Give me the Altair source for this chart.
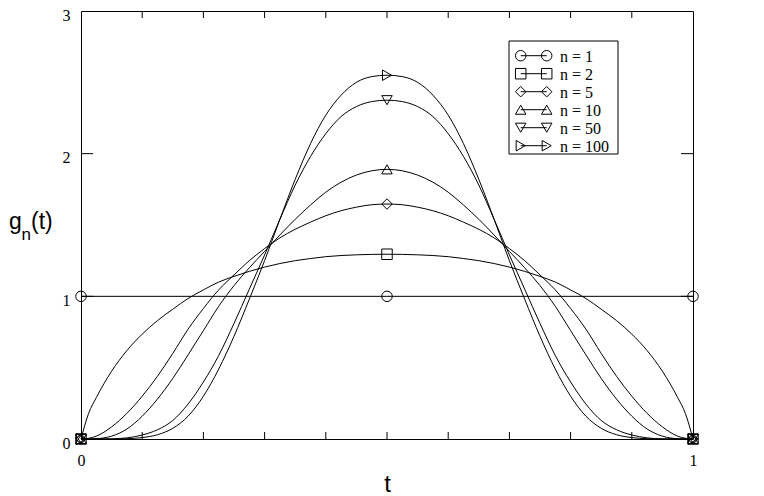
import altair as alt
import pandas as pd

# ---------------- data ----------------
NAMES = ["n = 1", "n = 2", "n = 5", "n = 10", "n = 50", "n = 100"]
SHAPES = ["circle", "square", "diamond", "triangle-up", "triangle-down", "triangle-right"]

# n = 1 is the constant line
T1 = [0, 0.5, 1]
G1 = [1, 1, 1]

# common sample positions for the other curves
T = [0, 0.0125, 0.025, 0.05, 0.075, 0.1, 0.125, 0.15, 0.175, 0.2, 0.225,
     0.25, 0.275, 0.3, 0.325, 0.35, 0.375, 0.4, 0.425, 0.45, 0.475, 0.5,
     0.525, 0.55, 0.575, 0.6, 0.625, 0.65, 0.675, 0.7, 0.725, 0.75, 0.775,
     0.8, 0.825, 0.85, 0.875, 0.9, 0.925, 0.95, 0.975, 0.9875, 1]

G2 = [0, 0.18, 0.29, 0.475, 0.62, 0.735, 0.83, 0.91, 0.985, 1.045, 1.10,
      1.14, 1.175, 1.205, 1.23, 1.25, 1.265, 1.278, 1.286, 1.291, 1.294, 1.295,
      1.294, 1.291, 1.286, 1.278, 1.265, 1.25, 1.23, 1.205, 1.175, 1.14, 1.10,
      1.045, 0.985, 0.91, 0.83, 0.735, 0.62, 0.475, 0.29, 0.18, 0]

G5 = [0, 0.005, 0.02, 0.085, 0.18, 0.30, 0.44, 0.60, 0.77, 0.915, 1.045,
      1.15, 1.25, 1.335, 1.41, 1.47, 1.52, 1.565, 1.60, 1.625, 1.642, 1.647,
      1.642, 1.625, 1.60, 1.565, 1.52, 1.47, 1.41, 1.335, 1.25, 1.15, 1.045,
      0.915, 0.77, 0.60, 0.44, 0.30, 0.18, 0.085, 0.02, 0.005, 0]

G10 = [0, 0, 0.002, 0.02, 0.07, 0.16, 0.28, 0.425, 0.59, 0.76, 0.93,
       1.075, 1.20, 1.315, 1.43, 1.54, 1.64, 1.73, 1.80, 1.85, 1.88, 1.89,
       1.88, 1.85, 1.80, 1.73, 1.64, 1.54, 1.43, 1.315, 1.20, 1.075, 0.93,
       0.76, 0.59, 0.425, 0.28, 0.16, 0.07, 0.02, 0.002, 0, 0]

G50 = [0, 0, 0, 0.001, 0.008, 0.028, 0.065, 0.13, 0.245, 0.40, 0.585,
       0.81, 1.05, 1.29, 1.54, 1.78, 1.98, 2.14, 2.26, 2.33, 2.365, 2.375,
       2.365, 2.33, 2.26, 2.14, 1.98, 1.78, 1.54, 1.29, 1.05, 0.81, 0.585,
       0.40, 0.245, 0.13, 0.065, 0.028, 0.008, 0.001, 0, 0, 0]

G100 = [0, 0, 0, 0, 0.002, 0.01, 0.03, 0.075, 0.16, 0.30, 0.49,
        0.72, 0.98, 1.25, 1.54, 1.82, 2.07, 2.27, 2.41, 2.50, 2.54, 2.55,
        2.54, 2.50, 2.41, 2.27, 2.07, 1.82, 1.54, 1.25, 0.98, 0.72, 0.49,
        0.30, 0.16, 0.075, 0.03, 0.01, 0.002, 0, 0, 0, 0]

# symbols are drawn at t = 0, 0.5, 1
MARK_T = [0, 0.5, 1]
MARK_N1 = [1, 1, 1]
MARK_N2 = [0, 1.295, 0]
MARK_N5 = [0, 1.647, 0]
MARK_N10 = [0, 1.89, 0]
MARK_N50 = [0, 2.375, 0]
MARK_N100 = [0, 2.55, 0]

# axis ticks
X_LABELS = [0, 1]
Y_LABELS = [0, 1, 2, 3]
X_MINOR = [0.1, 0.2, 0.3, 0.4, 0.5, 0.6, 0.7, 0.8, 0.9]
Y_MAJOR = [1, 2]

# ---------------- tables ----------------
curve_rows = []
for name, ts, gs in [(NAMES[0], T1, G1), (NAMES[1], T, G2), (NAMES[2], T, G5),
                     (NAMES[3], T, G10), (NAMES[4], T, G50), (NAMES[5], T, G100)]:
    curve_rows += [{"t": a, "g": b, "series": name} for a, b in zip(ts, gs)]
curves = pd.DataFrame(curve_rows)

mark_rows = []
for name, ys in zip(NAMES, [MARK_N1, MARK_N2, MARK_N5, MARK_N10, MARK_N50, MARK_N100]):
    mark_rows += [{"t": a, "g": b, "series": name} for a, b in zip(MARK_T, ys)]
markers = pd.DataFrame(mark_rows)

W, H = 612, 428
SERIF = "Times New Roman, Liberation Serif, serif"
SANS = "Arial, Liberation Sans, sans-serif"

xscale = alt.Scale(domain=[0, 1], nice=False, zero=False)
yscale = alt.Scale(domain=[0, 3], nice=False, zero=False)
xaxis = alt.Axis(values=X_LABELS, title=None, labelPadding=13, labelFlush=False,
                 format="d")
yaxis = alt.Axis(values=Y_LABELS, title=None, labelPadding=11, labelFlush=False,
                 labelOffset=4, format="d")
shape_scale = alt.Scale(domain=NAMES, range=SHAPES)

base_x = alt.X("t:Q", scale=xscale, axis=xaxis)
base_y = alt.Y("g:Q", scale=yscale, axis=yaxis)

lines = alt.Chart(curves).mark_line(color="black", strokeWidth=1, interpolate="monotone").encode(
    x=base_x, y=base_y, detail="series:N"
)

points = alt.Chart(markers).mark_point(filled=False, color="black", size=110, strokeWidth=1, opacity=1).encode(
    x=base_x, y=base_y, shape=alt.Shape("series:N", scale=shape_scale, legend=None)
)

xt = pd.DataFrame({"v": X_MINOR})
yt = pd.DataFrame({"v": Y_MAJOR})
tick_x_bottom = alt.Chart(xt).mark_rule(color="black", strokeWidth=1).encode(
    x=alt.X("v:Q", scale=xscale, axis=xaxis), y=alt.value(H), y2=alt.value(H - 7))
tick_x_top = alt.Chart(xt).mark_rule(color="black", strokeWidth=1).encode(
    x=alt.X("v:Q", scale=xscale, axis=xaxis), y=alt.value(0), y2=alt.value(7))
tick_y_left = alt.Chart(yt).mark_rule(color="black", strokeWidth=1).encode(
    y=alt.Y("v:Q", scale=yscale, axis=yaxis), x=alt.value(0), x2=alt.value(12))
tick_y_right = alt.Chart(yt).mark_rule(color="black", strokeWidth=1).encode(
    y=alt.Y("v:Q", scale=yscale, axis=yaxis), x=alt.value(W - 12), x2=alt.value(W))

one = pd.DataFrame({"a": [0]})
def label(txt, x, y, size, font=SANS, align="left"):
    return alt.Chart(one).mark_text(text=txt, font=font, fontSize=size, color="black",
                                    align=align, baseline="alphabetic").encode(
        x=alt.value(x), y=alt.value(y))

title_g = label("g", -72, 217.5, 23)
title_n = label("n", -59.5, 229, 17)
title_t = label("(t)", -50, 217.5, 23)
xtitle = label("t", 306.5, 481, 24, align="center")

# legend
leg = pd.DataFrame({"series": NAMES, "ly": [44.7 + 18 * i for i in range(len(NAMES))]})
legend_box = alt.Chart(one).mark_rect(fill="white", stroke="black", strokeWidth=1).encode(
    x=alt.value(428), x2=alt.value(537), y=alt.value(30), y2=alt.value(143))
legend_line = alt.Chart(leg).mark_rule(color="black", strokeWidth=1).encode(
    x=alt.value(439.7), x2=alt.value(465.7), y=alt.Y("ly:Q", scale=None, axis=None))
legend_p1 = alt.Chart(leg).mark_point(filled=False, color="black", size=110, strokeWidth=1, opacity=1).encode(
    x=alt.value(439.7), y=alt.Y("ly:Q", scale=None, axis=None),
    shape=alt.Shape("series:N", scale=shape_scale, legend=None))
legend_p2 = alt.Chart(leg).mark_point(filled=False, color="black", size=110, strokeWidth=1, opacity=1).encode(
    x=alt.value(465.7), y=alt.Y("ly:Q", scale=None, axis=None),
    shape=alt.Shape("series:N", scale=shape_scale, legend=None))
legend_text = alt.Chart(leg).mark_text(align="left", baseline="middle", font=SERIF, fontSize=16,
                                       color="black", dy=1).encode(
    x=alt.value(479), y=alt.Y("ly:Q", scale=None, axis=None), text="series:N")

chart = alt.layer(
    lines, points, tick_x_bottom, tick_x_top, tick_y_left, tick_y_right,
    title_g, title_n, title_t, xtitle,
    legend_box, legend_line, legend_p1, legend_p2, legend_text
).properties(
    width=W, height=H,
    autosize=alt.AutoSizeParams(type="none"),
    padding={"left": 73, "top": 3, "right": 63, "bottom": 57},
    background="white",
).configure_view(
    stroke="black", strokeWidth=1
).configure_axis(
    grid=False, domain=False, ticks=False,
    labelFont=SERIF, labelFontSize=16, labelColor="black"
)

chart.save("out.html", embed_options={"renderer": "svg", "actions": False})
